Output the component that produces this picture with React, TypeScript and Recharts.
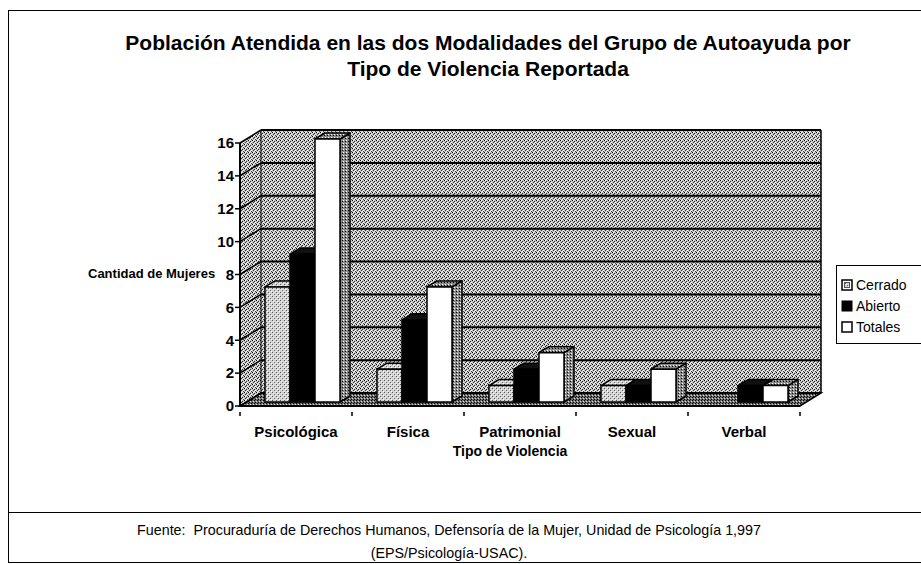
import React from 'react'
import { BarChart, Bar, XAxis, YAxis, CartesianGrid, Legend } from 'recharts'

const categorias = ['Psicológica', 'Física', 'Patrimonial', 'Sexual', 'Verbal']
const cerrado = [7, 2, 1, 1, 0]
const abierto = [9, 5, 2, 1, 1]
const totales = [16, 7, 3, 2, 1]
const yTicks = [0, 2, 4, 6, 8, 10, 12, 14, 16]

const data = categorias.map((tipo, i) => ({
  tipo,
  cerrado: cerrado[i],
  abierto: abierto[i],
  totales: totales[i],
}))

// profundidad de la "caja" 3D y de las barras
const WX = 21
const WY = 13
const BX = 10
const BY = 6
const SHIFT_X = 6
const SHIFT_Y = -4

const font = '"Liberation Sans", Arial, sans-serif'

function Bar3D(props: any) {
  const { x, y, width, height, front, side, top } = props
  if (!height || height <= 0) return null
  const fx = x + SHIFT_X
  const fy = y + SHIFT_Y
  const r = fx + width
  return (
    <g stroke="#000" strokeWidth={1.5} strokeLinejoin="round">
      <polygon
        points={`${r},${fy} ${r + BX},${fy - BY} ${r + BX},${fy + height - BY} ${r},${fy + height}`}
        fill={side}
      />
      <polygon
        points={`${fx},${fy} ${r},${fy} ${r + BX},${fy - BY} ${fx + BX},${fy - BY}`}
        fill={top}
      />
      <rect x={fx} y={fy} width={width} height={height} fill={front} />
    </g>
  )
}

function WallLine(props: any) {
  const { x1, x2, y1, index, x, y, width, height } = props
  const left = x
  const right = x + width
  const topY = y
  const bottom = y + height
  return (
    <g>
      {index === 0 && (
        <g>
          <rect x={left + WX} y={topY - WY} width={width} height={height} fill="url(#dither)" />
          <polygon
            points={`${left},${topY} ${left + WX},${topY - WY} ${left + WX},${bottom - WY} ${left},${bottom}`}
            fill="url(#dither)"
          />
          <polygon
            points={`${left},${bottom} ${right},${bottom} ${right + WX},${bottom - WY} ${left + WX},${bottom - WY}`}
            fill="url(#floor)"
            stroke="#000"
            strokeWidth={1.5}
          />
          <line x1={right + WX} y1={topY - WY} x2={right + WX} y2={bottom - WY} stroke="#000" strokeWidth={1.5} />
          <line x1={left + WX} y1={topY - WY} x2={left + WX} y2={bottom - WY} stroke="#000" strokeWidth={1} />
        </g>
      )}
      <line x1={x1 + WX} y1={y1 - WY} x2={x2 + WX} y2={y1 - WY} stroke="#000" strokeWidth={2} />
      <line x1={x1} y1={y1} x2={x1 + WX} y2={y1 - WY} stroke="#000" strokeWidth={1.5} />
    </g>
  )
}

function CategoryTick(props: any) {
  const { x, y, payload, index } = props
  const half = 56
  return (
    <g>
      <line x1={x - half} y1={y - 14} x2={x - half} y2={y - 10} stroke="#000" strokeWidth={1.5} />
      {index === categorias.length - 1 && (
        <line x1={x + half} y1={y - 14} x2={x + half} y2={y - 10} stroke="#000" strokeWidth={1.5} />
      )}
      <text x={x} y={y} dy="0.71em" textAnchor="middle" fontFamily={font} fontWeight="bold" fontSize={15} fill="#000">
        {payload.value}
      </text>
    </g>
  )
}

const legendItems = [
  { name: 'Cerrado', marker: 'cerrado' },
  { name: 'Abierto', marker: 'abierto' },
  { name: 'Totales', marker: 'totales' },
]

function Marker({ kind }: { kind: string }) {
  if (kind === 'abierto') return <rect x={1} y={1} width={10} height={10} fill="#000" stroke="#000" />
  if (kind === 'cerrado')
    return (
      <g>
        <rect x={1} y={1} width={10} height={10} fill="#fff" stroke="#000" strokeWidth={1.5} />
        <rect x={3.5} y={3.5} width={5} height={5} fill="url(#light)" stroke="#555" strokeWidth={1} />
      </g>
    )
  return <rect x={1} y={1} width={10} height={10} fill="#fff" stroke="#000" strokeWidth={1.5} />
}

function LegendBox() {
  return (
    <div
      style={{
        borderLeft: '1.5px solid #000',
        borderTop: '1.5px solid #000',
        borderBottom: '1.5px solid #000',
        padding: '8px 0 6px 4px',
        width: 120,
        fontFamily: font,
        fontSize: 14,
        color: '#000',
      }}
    >
      {legendItems.map((it) => (
        <div key={it.name} style={{ display: 'flex', alignItems: 'center', height: 21 }}>
          <svg width={13} height={12} style={{ marginRight: 2 }}>
            <Marker kind={it.marker} />
          </svg>
          <span>{it.name}</span>
        </div>
      ))}
    </div>
  )
}

export default function App() {
  return (
    <div style={{ position: 'absolute', left: 0, top: 0, width: 921, height: 564, background: '#fff', overflow: 'hidden' }}>
      <svg width={0} height={0} style={{ position: 'absolute' }}>
        <defs>
          <pattern id="dither" width={4} height={4} patternUnits="userSpaceOnUse">
            <rect width={4} height={4} fill="#c4c4c4" />
            <rect x={0} y={0} width={1} height={1} fill="#000" />
            <rect x={2} y={1} width={1} height={1} fill="#222" />
            <rect x={1} y={2} width={1} height={1} fill="#333" />
            <rect x={3} y={3} width={1} height={1} fill="#444" />
            <rect x={1} y={0} width={1} height={1} fill="#fff" />
            <rect x={3} y={2} width={1} height={1} fill="#fff" />
            <rect x={2} y={3} width={1} height={1} fill="#eee" />
          </pattern>
          <pattern id="floor" width={3} height={3} patternUnits="userSpaceOnUse">
            <rect width={3} height={3} fill="#6e6e6e" />
            <rect x={0} y={0} width={1} height={1} fill="#000" />
            <rect x={2} y={1} width={1} height={1} fill="#000" />
            <rect x={1} y={2} width={1} height={1} fill="#ddd" />
          </pattern>
          <pattern id="light" width={4} height={4} patternUnits="userSpaceOnUse">
            <rect width={4} height={4} fill="#d2d2d2" />
            <rect x={0} y={0} width={1} height={1} fill="#555" />
            <rect x={2} y={2} width={1} height={1} fill="#666" />
            <rect x={1} y={1} width={1} height={1} fill="#fff" />
            <rect x={3} y={3} width={1} height={1} fill="#fff" />
          </pattern>
          <pattern id="side" width={3} height={3} patternUnits="userSpaceOnUse">
            <rect width={3} height={3} fill="#8a8a8a" />
            <rect x={0} y={0} width={1} height={1} fill="#000" />
            <rect x={1} y={2} width={1} height={1} fill="#fff" />
          </pattern>
        </defs>
      </svg>

      {/* marco */}
      <div style={{ position: 'absolute', left: 8, top: 10, width: 913, height: 551, borderLeft: '1.5px solid #000', borderTop: '1.5px solid #000', borderBottom: '1.5px solid #000' }} />
      <div style={{ position: 'absolute', left: 8, top: 512, width: 913, height: 0, borderTop: '1.5px solid #000' }} />

      <div
        style={{
          position: 'absolute',
          left: 488,
          top: 30,
          transform: 'translateX(-50%)',
          whiteSpace: 'nowrap',
          textAlign: 'center',
          fontFamily: font,
          fontWeight: 'bold',
          fontSize: 21,
          lineHeight: '26px',
          color: '#000',
        }}
      >
        Población Atendida en las dos Modalidades del Grupo de Autoayuda por
        <br />
        Tipo de Violencia Reportada
      </div>

      <div style={{ position: 'absolute', left: 88, top: 266, fontFamily: font, fontWeight: 'bold', fontSize: 13, color: '#000', whiteSpace: 'nowrap' }}>
        Cantidad de Mujeres
      </div>

      <div style={{ position: 'absolute', left: 510, top: 443, transform: 'translateX(-50%)', fontFamily: font, fontWeight: 'bold', fontSize: 14, color: '#000', whiteSpace: 'nowrap' }}>
        Tipo de Violencia
      </div>

      <div
        style={{
          position: 'absolute',
          left: 449,
          top: 519,
          transform: 'translateX(-50%)',
          textAlign: 'center',
          fontFamily: font,
          fontSize: 14.3,
          lineHeight: '23px',
          color: '#000',
          whiteSpace: 'nowrap',
        }}
      >
        Fuente:&nbsp; Procuraduría de Derechos Humanos, Defensoría de la Mujer, Unidad de Psicología 1,997
        <br />
        (EPS/Psicología-USAC).
      </div>

      <div style={{ position: 'absolute', left: 0, top: 0 }}>
        <BarChart
          width={921}
          height={564}
          data={data}
          margin={{ top: 143, right: 121, bottom: 128, left: 200 }}
          barSize={25}
          barGap={0}
        >
          <CartesianGrid vertical={false} horizontal={(p: any) => <WallLine {...p} />} />
          <XAxis
            dataKey="tipo"
            height={30}
            axisLine={{ stroke: '#000', strokeWidth: 2 }}
            tickLine={false}
            tickMargin={14}
            tick={(p: any) => <CategoryTick {...p} />}
            interval={0}
          />
          <YAxis
            width={40}
            domain={[0, 16]}
            ticks={yTicks}
            interval={0}
            axisLine={{ stroke: '#000', strokeWidth: 2 }}
            tickLine={{ stroke: '#000', strokeWidth: 1.5 }}
            tickSize={5}
            tickMargin={1}
            tick={{ fill: '#000', fontFamily: font, fontWeight: 'bold', fontSize: 15 }}
          />
          <Legend
            layout="horizontal"
            verticalAlign="middle"
            align="center"
            content={() => <LegendBox />}
            wrapperStyle={{ left: 836, top: 265, width: 120 }}
          />
          <Bar
            dataKey="cerrado"
            name="Cerrado"
            isAnimationActive={false}
            shape={(p: any) => <Bar3D {...p} front="url(#light)" side="url(#light)" top="url(#light)" />}
          />
          <Bar
            dataKey="abierto"
            name="Abierto"
            isAnimationActive={false}
            shape={(p: any) => <Bar3D {...p} front="#000" side="#000" top="#111" />}
          />
          <Bar
            dataKey="totales"
            name="Totales"
            isAnimationActive={false}
            shape={(p: any) => <Bar3D {...p} front="#fff" side="url(#side)" top="url(#side)" />}
          />
        </BarChart>
      </div>
    </div>
  )
}
